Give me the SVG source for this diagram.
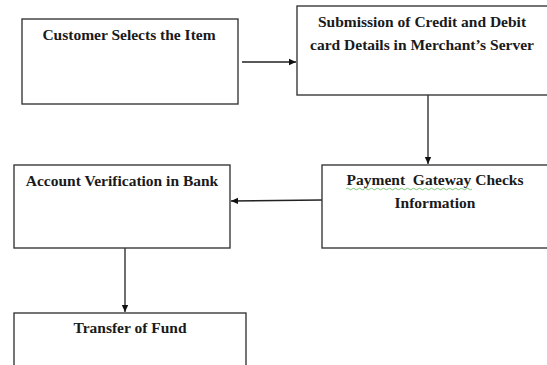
<svg xmlns="http://www.w3.org/2000/svg" width="547" height="365" viewBox="0 0 547 365">
<style>
.box{fill:#fff;stroke:#3a3a3a;stroke-width:1.4}
.t{font-family:"Liberation Serif","Times New Roman",serif;font-weight:bold;font-size:15.5px;fill:#1a1a1a;text-anchor:middle}
.c{stroke:#222;stroke-width:1.3;fill:none}
</style>
<defs>
<marker id="ah" markerWidth="8" markerHeight="8" refX="7" refY="4" orient="auto" markerUnits="userSpaceOnUse">
<path d="M0,0.8 L7,4 L0,7.2 Z" fill="#111"/>
</marker>
</defs>
<rect width="547" height="365" fill="#fff"/>
<g id="connectors">
<line class="c" x1="242" y1="62" x2="296" y2="62" marker-end="url(#ah)"/>
<line class="c" x1="428" y1="95" x2="428" y2="164" marker-end="url(#ah)"/>
<line class="c" x1="322" y1="200" x2="231" y2="201" marker-end="url(#ah)"/>
<line class="c" x1="125" y1="248" x2="125" y2="312" marker-end="url(#ah)"/>
</g>
<g id="n1">
<rect class="box" x="22" y="19" width="216" height="85"/>
<text class="t" x="129" y="40">Customer Selects the Item</text>
</g>
<g id="n2">
<rect class="box" x="297" y="6" width="260" height="89"/>
<text class="t" x="422" y="27">Submission of Credit and Debit</text>
<text class="t" x="422" y="50">card Details in Merchant’s Server</text>
</g>
<g id="n3">
<rect class="box" x="322" y="165" width="235" height="83"/>
<text class="t" x="435" y="185" xml:space="preserve">Payment  Gateway Checks</text>
<text class="t" x="435" y="208">Information</text>
<path d="M346,189 q1.5,-1.5 3,0 t3,0 t3,0 t3,0 t3,0 t3,0 t3,0 t3,0 t3,0 t3,0 t3,0 t3,0 t3,0 t3,0 t3,0 t3,0 t3,0 t3,0 t3,0 t3,0 t3,0 t3,0 t3,0 t3,0 t3,0 t3,0 t3,0 t3,0 t3,0 t3,0 t3,0 t3,0 t3,0 t3,0 t3,0 t3,0 t3,0 t3,0 t3,0 t3,0 t3,0 t3,0" fill="none" stroke="#5cb85c" stroke-width="0.8"/>
</g>
<g id="n4">
<rect class="box" x="14" y="165" width="216" height="83"/>
<text class="t" x="122" y="186">Account Verification in Bank</text>
</g>
<g id="n5">
<rect class="box" x="14" y="313" width="232" height="60"/>
<text class="t" x="130" y="333">Transfer of Fund</text>
</g>
</svg>
